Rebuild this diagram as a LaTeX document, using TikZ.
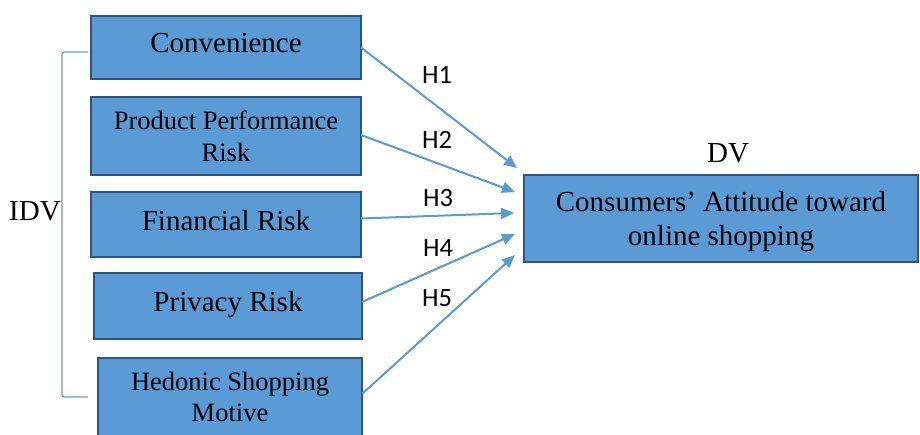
\documentclass[tikz,border=0pt]{standalone}
\usepackage{fontspec}
\setmainfont{Liberation Serif}
\newfontfamily\hypfont{Carlito}
\usetikzlibrary{arrows.meta}
\definecolor{boxfill}{RGB}{91,155,213}
\definecolor{boxline}{RGB}{46,84,130}
\definecolor{linkblue}{RGB}{91,155,213}

\begin{document}
\begin{tikzpicture}[x=1pt,y=1pt]
  \tikzset{VarStyle/.style = {
    shape         = rectangle,
    draw          = boxline,
    fill          = boxfill,
    line width    = 2pt,
    text          = black,
    align         = center,
    inner sep     = 0pt,
    outer sep     = 0pt,
    font          = \fontsize{29}{34.8}\selectfont
    }
  }
  \tikzset{OneLine/.style = {
    text depth    = 9pt
    }
  }
  \tikzset{SmallText/.style = {
    font          = \fontsize{26.5}{31.8}\selectfont
    }
  }
  \tikzset{EdgeStyle/.style = {
    draw          = linkblue,
    line width    = 2pt,
    -{Triangle[length=13pt,width=11pt]}
    }
  }
  \tikzset{HypStyle/.style = {
    text          = black,
    inner sep     = 0pt,
    font          = \hypfont\fontsize{26.5}{31.8}\selectfont
    }
  }
  \tikzset{GroupStyle/.style = {
    text          = black,
    inner sep     = 0pt,
    font          = \fontsize{29}{34.8}\selectfont
    }
  }
  \useasboundingbox (0,0) rectangle (920,434);

	\node[VarStyle, OneLine, minimum width=270pt, minimum height=63pt](conv) at (226,386.5) {Convenience};
	\node[VarStyle, SmallText, minimum width=270pt, minimum height=78pt](ppr) at (226,298) {Product Performance\\Risk};
	\node[VarStyle, OneLine, minimum width=270pt, minimum height=65pt](fin) at (226,209.5) {Financial Risk};
	\node[VarStyle, OneLine, minimum width=268pt, minimum height=66pt](priv) at (228,128) {Privacy Risk};
	\node[VarStyle, SmallText, minimum width=264pt, minimum height=78pt](hed) at (230,37) {Hedonic Shopping\\Motive};
	\node[VarStyle, text depth=0pt, minimum width=394pt, minimum height=87pt](att) at (721,215.5) {Consumers' Attitude toward\\online shopping};

	\coordinate (t1) at (517,266);
	\coordinate (t2) at (515,242);
	\coordinate (t3) at (514,221);
	\coordinate (t4) at (515,200);
	\coordinate (t5) at (515,179);
	\draw[EdgeStyle](conv.east) -- (t1);
	\draw[EdgeStyle]([yshift=1pt]ppr.east) -- (t2);
	\draw[EdgeStyle]([yshift=6pt]fin.east) -- (t3);
	\draw[EdgeStyle]([yshift=4pt]priv.east) -- (t4);
	\draw[EdgeStyle]([yshift=3pt]hed.east) -- (t5);

	\node[HypStyle](h1) at (437,359) {H1};
	\node[HypStyle](h2) at (437,294) {H2};
	\node[HypStyle](h3) at (438,236) {H3};
	\node[HypStyle](h4) at (438,186) {H4};
	\node[HypStyle](h5) at (437,136) {H5};

  % bracket for the independent variables
  \draw[linkblue, line width=1.2pt, rounded corners=2pt] (88,382) -- (62,382) -- (62,37) -- (88,37);
  \node[GroupStyle](idv) at (35,223) {IDV};
  \node[GroupStyle](dv) at (728,280.5) {DV};

  \end{tikzpicture}
\end{document}
